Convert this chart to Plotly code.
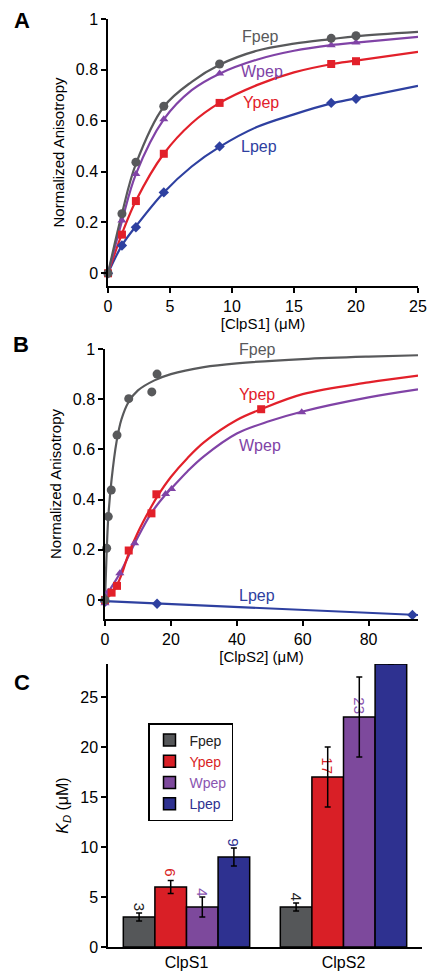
import plotly.graph_objects as go

W, H = 435, 977          # browser window
OFF = 8                  # default page body margin
FW, FH = W - OFF, H - OFF
FONT = "Liberation Sans, Arial, sans-serif"

C_F = "#58595b"
C_Y = "#e2202a"
C_W = "#8043a6"
C_L = "#2e40a0"
B_F = "#555759"
B_Y = "#d91f26"
B_W = "#7d499c"
B_L = "#2e3190"

# ---------------- Panel A data (ClpS1) ----------------
a_x = [0, 1.125, 2.25, 4.5, 9, 18, 20]
a_F = [0, 0.234, 0.437, 0.657, 0.823, 0.924, 0.934]
a_W = [0, 0.208, 0.39, 0.606, 0.786, 0.897, 0.908]
a_Y = [0, 0.152, 0.284, 0.47, 0.67, 0.823, 0.834]
a_L = [0, 0.109, 0.181, 0.318, 0.499, 0.67, 0.686]

a_fit_x = [0, 1.125, 2.25, 4.5, 6.75, 9, 12, 15, 18, 20, 25]
a_fit_F = [0, 0.235, 0.43, 0.655, 0.753, 0.82, 0.875, 0.903, 0.921, 0.932, 0.949]
a_fit_W = [0, 0.205, 0.39, 0.605, 0.72, 0.785, 0.84, 0.875, 0.897, 0.907, 0.93]
a_fit_Y = [0, 0.155, 0.285, 0.47, 0.59, 0.67, 0.74, 0.79, 0.822, 0.836, 0.871]
a_fit_L = [0, 0.11, 0.185, 0.318, 0.42, 0.497, 0.575, 0.625, 0.668, 0.688, 0.737]

# ---------------- Panel B data (ClpS2) ----------------
b_F_x = [0, 0.5, 1.0, 1.9, 3.65, 7.2, 14.2, 15.8]
b_F_y = [0, 0.206, 0.332, 0.438, 0.657, 0.802, 0.829, 0.90]
b_Y_x = [0, 2.0, 3.65, 7.2, 14.1, 15.6, 47.4]
b_Y_y = [0, 0.029, 0.056, 0.197, 0.345, 0.421, 0.76]
b_W_x = [0, 1.0, 4.5, 9.0, 18.4, 20.2, 59.7]
b_W_y = [-0.013, 0.033, 0.106, 0.226, 0.422, 0.442, 0.748]
b_L_x = [0, 15.8, 93.3]
b_L_y = [-0.007, -0.015, -0.06]

b_fit_F_x = [0, 0.5, 1, 2, 3.5, 5, 7.2, 10, 15, 20, 30, 40, 60, 80, 95]
b_fit_F_y = [0, 0.19, 0.33, 0.48, 0.63, 0.72, 0.79, 0.835, 0.875, 0.9, 0.928, 0.943, 0.96, 0.97, 0.975]
b_fit_Y_x = [0, 2, 3.65, 5, 7.2, 10, 14, 16, 20, 25, 30, 40, 47.4, 60, 80, 95]
b_fit_Y_y = [0, 0.025, 0.06, 0.1, 0.185, 0.27, 0.37, 0.415, 0.49, 0.565, 0.628, 0.717, 0.76, 0.82, 0.867, 0.894]
b_fit_W_x = [0, 1, 4.5, 9, 14, 18.4, 20.2, 25, 30, 40, 50, 59.7, 80, 95]
b_fit_W_y = [0, 0.03, 0.105, 0.225, 0.345, 0.42, 0.445, 0.512, 0.572, 0.663, 0.713, 0.75, 0.807, 0.839]
b_fit_L_x = [0, 95]
b_fit_L_y = [-0.005, -0.06]

# ---------------- Panel C data (KD) ----------------
c_cats = ["ClpS1", "ClpS2"]
c_F = [3, 4]
c_Y = [6, 17]
c_W = [4, 23]
c_L = [9, 28.3]
c_F_err = [0.4, 0.4]
c_Y_err = [0.65, 3]
c_W_err = [1.0, 4]
c_L_err = [0.9, 0]
c_F_txt = ["3\u2009", "4\u2009"]
c_Y_txt = ["6\u2002", "17"]
c_W_txt = ["4\u2002", "23"]
c_L_txt = ["9\u2002", " "]

fig = go.Figure()

def dom_x(l, r):
    return [(l - OFF) / FW, (r - OFF) / FW]

def dom_y(top, bottom):
    return [1 - (bottom - OFF) / FH, 1 - (top - OFF) / FH]

def px_x(p):
    return (p - OFF) / FW

def px_y(p):
    return 1 - (p - OFF) / FH

# Panel A traces
for fx, fy, col in [(a_fit_x, a_fit_L, C_L), (a_fit_x, a_fit_Y, C_Y), (a_fit_x, a_fit_W, C_W), (a_fit_x, a_fit_F, C_F)]:
    fig.add_trace(go.Scatter(x=fx, y=fy, mode="lines", line=dict(color=col, width=2.2, shape="spline", smoothing=1.0),
                             showlegend=False, xaxis="x", yaxis="y", cliponaxis=False))
for yy, col, sym, sz in [(a_L, C_L, "diamond", 8), (a_Y, C_Y, "square", 8), (a_W, C_W, "triangle-up", 8), (a_F, C_F, "circle", 9)]:
    fig.add_trace(go.Scatter(x=a_x, y=yy, mode="markers", marker=dict(color=col, symbol=sym, size=sz),
                             showlegend=False, xaxis="x", yaxis="y", cliponaxis=False))

# Panel B traces
for fx, fy, col in [(b_fit_L_x, b_fit_L_y, C_L), (b_fit_W_x, b_fit_W_y, C_W), (b_fit_Y_x, b_fit_Y_y, C_Y), (b_fit_F_x, b_fit_F_y, C_F)]:
    fig.add_trace(go.Scatter(x=fx, y=fy, mode="lines", line=dict(color=col, width=2.2, shape="spline", smoothing=1.0),
                             showlegend=False, xaxis="x2", yaxis="y2", cliponaxis=False))
for xx, yy, col, sym, sz in [(b_L_x, b_L_y, C_L, "diamond", 8), (b_W_x, b_W_y, C_W, "triangle-up", 8),
                             (b_Y_x, b_Y_y, C_Y, "square", 8), (b_F_x, b_F_y, C_F, "circle", 9)]:
    fig.add_trace(go.Scatter(x=xx, y=yy, mode="markers", marker=dict(color=col, symbol=sym, size=sz),
                             showlegend=False, xaxis="x2", yaxis="y2", cliponaxis=False))

# Panel C bars
for name, vals, err, txt, col, tcol in [("Fpep", c_F, c_F_err, c_F_txt, B_F, "#222222"),
                                        ("Ypep", c_Y, c_Y_err, c_Y_txt, B_Y, B_Y),
                                        ("Wpep", c_W, c_W_err, c_W_txt, B_W, "#8a55b0"),
                                        ("Lpep", c_L, c_L_err, c_L_txt, B_L, B_L)]:
    fig.add_trace(go.Bar(
        x=c_cats, y=vals, name=f"<span style='color:{tcol}'>{name}</span>",
        marker=dict(color=col, line=dict(color="black", width=1.5)),
        error_y=dict(type="data", array=err, color="black", thickness=1.5, width=3),
        text=txt, textposition="outside", textangle=90, constraintext="none",
        outsidetextfont=dict(color=tcol, size=15, family=FONT),
        textfont=dict(color=tcol, size=15, family=FONT),
        cliponaxis=False,
        xaxis="x3", yaxis="y3"))

axis_common = dict(showgrid=False, zeroline=False, showline=True, linecolor="black", linewidth=1.5,
                   ticks="outside", ticklen=5, tickwidth=1.5, tickcolor="black", automargin=False,
                   tickfont=dict(size=16, family=FONT, color="black"))

fig.update_layout(
    width=FW, height=FH, margin=dict(l=0, r=0, t=0, b=0, autoexpand=False),
    paper_bgcolor="white", plot_bgcolor="white",
    font=dict(family=FONT, color="black"),
    barmode="group", bargap=0.195, bargroupgap=0,
    showlegend=True,
    legend=dict(x=px_x(148), y=px_y(723), xanchor="left", yanchor="top",
                bordercolor="black", borderwidth=1.5, bgcolor="white",
                font=dict(size=14, family=FONT), tracegroupgap=0, itemwidth=30),
    xaxis=dict(domain=dom_x(108, 418), range=[0, 25], tickvals=[0, 5, 10, 15, 20, 25], anchor="y",
               title=dict(text="[ClpS1] (μM)", font=dict(size=15), standoff=4), **axis_common),
    yaxis=dict(domain=dom_y(19, 286), range=[-0.05, 1], tickvals=[0, 0.2, 0.4, 0.6, 0.8, 1], anchor="x",
               title=dict(text="Normalized Anisotropy", font=dict(size=15), standoff=8), **axis_common),
    xaxis2=dict(domain=dom_x(105, 418), range=[0, 95], tickvals=[0, 20, 40, 60, 80], anchor="y2",
                title=dict(text="[ClpS2] (μM)", font=dict(size=15), standoff=4), **axis_common),
    yaxis2=dict(domain=dom_y(349, 619), range=[-0.076, 1], tickvals=[0, 0.2, 0.4, 0.6, 0.8, 1], anchor="x2",
                title=dict(text="Normalized Anisotropy", font=dict(size=15), standoff=8), **axis_common),
    xaxis3=dict(domain=dom_x(108, 422), anchor="y3", showgrid=False, zeroline=False, showline=True,
                linecolor="black", linewidth=1.5, ticks="", automargin=False,
                tickfont=dict(size=16, family=FONT, color="black")),
    yaxis3=dict(domain=dom_y(664, 947), range=[0, 28.3], tickvals=[0, 5, 10, 15, 20, 25], anchor="x3",
                title=dict(text="<i>K</i><sub><i>D</i></sub> (μM)", font=dict(size=16), standoff=8), **axis_common),
)

ann = []
for lab, px, py in [("A", 22, 20), ("B", 21, 344), ("C", 22, 682)]:
    ann.append(dict(text=f"<b>{lab}</b>", x=px_x(px), y=px_y(py), xref="paper", yref="paper",
                    xanchor="center", yanchor="middle",
                    showarrow=False, font=dict(size=22, family=FONT, color="black")))
for lab, x, y, col in [("Fpep", 12.3, 0.93, C_F), ("Wpep", 12.4, 0.795, C_W), ("Ypep", 12.3, 0.673, C_Y), ("Lpep", 12.2, 0.5, C_L)]:
    ann.append(dict(text=lab, x=x, y=y, xref="x", yref="y", showarrow=False, font=dict(size=16, color=col, family=FONT)))
for lab, x, y, col in [("Fpep", 46.2, 0.998, C_F), ("Ypep", 46.2, 0.82, C_Y), ("Wpep", 46.9, 0.617, C_W), ("Lpep", 46.2, 0.016, C_L)]:
    ann.append(dict(text=lab, x=x, y=y, xref="x2", yref="y2", showarrow=False, font=dict(size=16, color=col, family=FONT)))
fig.update_layout(annotations=ann)

fig.write_html("out.html")
